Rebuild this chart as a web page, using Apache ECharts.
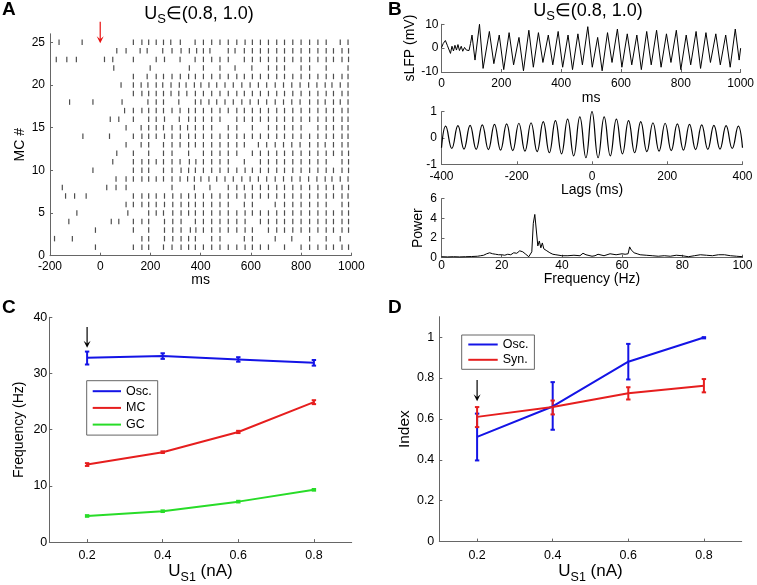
<!DOCTYPE html>
<html><head><meta charset="utf-8">
<script src="https://cdn.jsdelivr.net/npm/echarts@6/dist/echarts.min.js"></script>
<style>html,body{margin:0;padding:0;background:#fff}#c{width:757px;height:585px}</style>
</head><body><div id="c"></div>
<script>
// ---------- Panel A: spike times (ms) of each mitral cell, MC #1 .. #25 ----------
const mcSpikeTimes = [
  [-19,132,166,193,252,286,322,352,379,411,444,477,510,544,577,606,638,670,734,800,834,867,900,929,963,989],
  [-182,-111,166,193,256,289,322,352,379,444,477,574,606,697,763,834,900,956],
  [-19,132,193,256,289,322,359,381,411,444,477,510,544,577,606,670,703,734,767,800,834,867,900,929,963,989],
  [-125,44,74,132,166,193,256,289,322,379,411,444,477,510,544,577,638,670,703,734,767,800,834,867,900,929,963,989],
  [-93,110,193,223,252,289,322,352,379,411,444,477,510,544,577,606,638,670,703,734,767,800,834,867,900,929,963,989],
  [103,132,166,193,223,256,289,322,352,379,411,444,477,510,574,606,697,734,767,800,834,867,900,963,989],
  [-138,-102,-56,132,166,193,223,256,289,322,352,379,411,444,477,510,544,577,606,638,670,703,734,767,800,834,867,900,929,963,987],
  [-151,26,63,103,286,375,437,510,544,574,606,638,670,703,734,767,800,834,867,900,929,963,989],
  [63,103,132,166,193,223,252,286,318,348,375,401,433,464,497,530,564,597,630,663,697,730,763,796,830,863,896,923,956,987],
  [-29,132,166,193,252,286,322,352,379,411,444,477,510,544,577,606,638,670,703,734,767,800,834,867,900,929,963,989],
  [50,132,166,193,223,252,286,318,355,381,411,444,477,510,574,638,670,703,734,767,800,834,867,900,963,989],
  [66,132,193,252,286,352,411,444,477,510,544,606,638,670,703,734,767,800,834,867,900,929,963,989],
  [103,163,193,252,286,318,352,379,411,444,477,510,544,574,630,663,697,730,763,796,834,867,896,929,963,987],
  [-69,37,132,166,193,223,256,286,319,352,379,411,444,477,510,544,574,606,638,670,703,734,767,800,834,867,900,929,963,987],
  [103,163,193,223,252,286,319,348,379,411,444,510,544,606,670,703,734,767,800,867,900,929,963,987],
  [40,74,132,193,223,256,315,352,379,411,444,477,544,574,606,638,670,703,734,767,800,834,867,900,929,963,987],
  [97,132,166,193,223,252,286,318,352,379,411,444,477,510,544,574,606,638,670,703,734,767,800,834,867,900,929,963,987],
  [-122,-29,87,190,223,252,313,379,401,433,464,497,530,564,597,630,663,697,730,763,796,834,867,896,929,956,987],
  [132,166,193,223,252,282,313,345,379,411,444,477,510,544,574,606,638,670,703,734,767,800,834,867,900,929,963,987],
  [83,132,163,190,223,249,282,315,342,375,401,433,464,497,530,564,597,630,663,697,730,763,796,830,863,896,923,956,987],
  [132,187,223,252,286,319,352,379,411,444,477,510,544,574,606,638,670,703,734,767,800,834,867,900,929,963,987],
  [54,199,355,411,477,537,604,670,703,734,800,834,900,987],
  [-175,-133,-95,17,50,132,223,256,318,378,411,444,477,510,574,606,638,670,703,734,767,800,834,867,900,929,963,989],
  [66,103,159,187,249,286,322,355,384,411,437,510,537,574,606,638,670,703,734,767,800,834,867,900,929,963,989],
  [-164,-72,132,166,193,223,252,281,319,378,411,444,477,510,544,577,606,638,670,703,734,767,800,834,867,900,956,987]
];
const rasterYTicks = [0,5,10,15,20,25];

// ---------- Panel B: sLFP trace (ms, mV) ----------
const lfpTimes = [0,6,13,20,30,35,40,45,50,55,60,66,71,77,83,88,92,97,102,112,127,139,
  160,175,193,208,226,241,259,274,292,307,324,339,357,372,390,405,423,438,456,471,489,504,522,537,555,570,
  588,603,621,636,653,668,686,701,719,734,752,767,785,800,818,833,851,866,884,899,917,932,950,965,982,995,1000];
const lfpValues = [0.2,2,3.2,1,-2.2,0.8,-1.2,1.2,-0.8,1.5,-1,0.8,-1.3,0.3,-0.8,-0.4,-1,2,5.5,-5,10,-8.5,
  7,-6.5,5.5,-9,6.5,-7,4.5,-9.5,7.5,-8,6.5,-6,5.5,-7,7,-8,5.5,-9,6,-7,9,-8,4.5,-9.5,6.5,-6,
  8,-8,6,-7,5.5,-9,7,-7,7.5,-8,6,-6,7.5,-9,5.5,-7,7,-8.5,6.5,-6,6,-7,5.5,-8,8,-5,0];

// autocorrelation (lag ms, value)
const acLags = [-400,-388.8,-372.6,-356.4,-340.2,-324,-307.8,-291.6,-275.4,-259.2,-243,-226.8,-210.6,-194.4,-178.2,-162,-145.8,-129.6,-113.4,-97.2,-81,-64.8,-48.6,-32.4,-16.2,0,
  16.2,32.4,48.6,64.8,81,97.2,113.4,129.6,145.8,162,178.2,194.4,210.6,226.8,243,259.2,275.4,291.6,307.8,324,340.2,356.4,372.6,388.8,400];
const acValues = [-0.37,0.45,-0.4,0.47,-0.42,0.48,-0.43,0.5,-0.44,0.52,-0.46,0.54,-0.48,0.56,-0.5,0.58,-0.52,0.62,-0.56,0.66,-0.6,0.72,-0.68,0.8,-0.75,1.0,
  -0.75,0.8,-0.68,0.72,-0.6,0.66,-0.56,0.62,-0.52,0.58,-0.5,0.56,-0.48,0.54,-0.46,0.52,-0.44,0.5,-0.43,0.48,-0.42,0.47,-0.4,0.45,-0.37];

// power spectrum (Hz, power)
const psFreq = [0,2,4,6,8,10,12,13,14,15,16,17,18,19,20,21,22,23,24,25,26,27,28,29,29.5,30,30.5,31,31.5,32,32.5,33,33.5,34,34.5,35,
  36,37,38,40,42,44,46,47,48,50,51,52,54,56,58,60,61,61.5,62,62.5,63,64,65,66,68,70,72,74,76,78,80,82,84,86,88,90,92,94,96,98,100];
const psPower = [0.1,0.08,0.1,0.08,0.1,0.12,0.15,0.2,0.25,0.4,0.5,0.4,0.35,0.3,0.3,0.25,0.35,0.3,0.5,0.45,0.7,0.6,0.35,0.1,0.05,0.6,3.5,4.4,4.2,1.2,1.7,1.0,1.5,0.9,1.1,0.7,
  0.5,0.35,0.3,0.2,0.2,0.25,0.2,0.45,0.3,0.15,0.2,0.35,0.2,0.4,0.3,0.4,0.35,0.15,0.4,1.1,0.8,0.5,0.4,0.3,0.25,0.2,0.15,0.2,0.15,0.25,0.2,0.1,0.2,0.3,0.25,0.2,0.3,0.3,0.2,0.15,0.1];

// ---------- Panels C & D ----------
const us1 = [0.2, 0.4, 0.6, 0.8];
const us1Ticks = [0.2, 0.4, 0.6, 0.8];
const oscFreq = [32.8, 33.1, 32.5, 31.9];
const oscFreqLo = [31.6, 32.6, 32.1, 31.4];
const oscFreqHi = [33.9, 33.6, 32.9, 32.4];
const mcFreq = [13.8, 16.0, 19.6, 24.9];
const mcFreqLo = [13.55, 15.85, 19.4, 24.55];
const mcFreqHi = [14.05, 16.15, 19.8, 25.25];
const gcFreq = [4.65, 5.5, 7.2, 9.3];
const gcFreqLo = [4.5, 5.35, 7.05, 9.15];
const gcFreqHi = [4.8, 5.65, 7.35, 9.45];
const oscIndex = [0.512, 0.661, 0.88, 0.998];
const oscIndexLo = [0.397, 0.547, 0.793, 0.994];
const oscIndexHi = [0.626, 0.78, 0.967, 1.0];
const synIndex = [0.61, 0.658, 0.726, 0.762];
const synIndexLo = [0.56, 0.622, 0.695, 0.73];
const synIndexHi = [0.658, 0.69, 0.755, 0.795];
const indexTicks = [0, 0.2, 0.4, 0.6, 0.8, 1];

const FONT = '"Liberation Sans", Arial, Helvetica, sans-serif';
const AXC = '#666';
const BLUE = '#1414e6', RED = '#e61e1e', GREEN = '#28dc28';

function mkAxis(g, min, max, o) {
  const ax = {
    type: 'value', gridIndex: g, min: min, max: max,
    axisLine: {show: true, onZero: false, lineStyle: {color: AXC, width: 1}},
    axisTick: {show: true, inside: true, length: 3, lineStyle: {color: AXC}},
    axisLabel: {show: true, color: '#000', fontSize: o.fs || 12, fontFamily: FONT, margin: o.margin,
      formatter: o.fmt || (v => String(v))},
    splitLine: {show: false},
    name: o.name, nameLocation: 'middle', nameGap: o.gap,
    nameTextStyle: Object.assign({color: '#000', fontSize: o.nfs || 14, fontFamily: FONT}, o.nts || {})
  };
  if (o.interval != null) ax.interval = o.interval;
  if (o.ticks) { ax.axisTick.customValues = o.ticks; ax.axisLabel.customValues = o.ticks; }
  return ax;
}

const us1Name = {
  rich: {
    u: {fontSize: 17, lineHeight: 26, fontFamily: FONT, color: '#000'},
    s: {fontSize: 12.5, lineHeight: 10, verticalAlign: 'bottom', fontFamily: FONT, color: '#000'}
  }
};

function errSeries(name, x, lo, hi, xi, color) {
  return {
    type: 'custom', name: name, xAxisIndex: xi, yAxisIndex: xi, z: 3,
    data: x.map((v, i) => [v, lo[i], hi[i]]),
    encode: {x: 0, y: [1, 2]},
    renderItem: function (params, api) {
      const a = api.coord([api.value(0), api.value(1)]);
      const b = api.coord([api.value(0), api.value(2)]);
      const w = 2.2, st = {stroke: color, lineWidth: 2};
      return {type: 'group', children: [
        {type: 'line', shape: {x1: a[0], y1: a[1], x2: b[0], y2: b[1]}, style: st},
        {type: 'line', shape: {x1: a[0] - w, y1: a[1], x2: a[0] + w, y2: a[1]}, style: st},
        {type: 'line', shape: {x1: b[0] - w, y1: b[1], x2: b[0] + w, y2: b[1]}, style: st}
      ]};
    }
  };
}

const rasterPts = [];
mcSpikeTimes.forEach((row, i) => row.forEach(t => rasterPts.push([t, i + 1])));

const titleRich = {
  u: {fontSize: 18, lineHeight: 22, fontFamily: FONT, color: '#000'},
  s: {fontSize: 13, lineHeight: 11, verticalAlign: 'bottom', fontFamily: FONT, color: '#000'}
};

const legendCommon = {
  orient: 'vertical', itemHeight: 14, borderColor: '#666', borderWidth: 1, backgroundColor: '#fff',
  selectedMode: false, itemStyle: {opacity: 0, borderWidth: 0},
  textStyle: {fontSize: 12.5, fontFamily: FONT, color: '#000'}
};

const option = {
  animation: false,
  backgroundColor: '#fff',
  grid: [
    {left: 50, top: 33.8, width: 301.3, height: 221.9},
    {left: 441.5, top: 24.3, width: 301, height: 47.7},
    {left: 441.5, top: 111.7, width: 301, height: 52.6},
    {left: 441.5, top: 198.7, width: 301, height: 59},
    {left: 49.3, top: 317.3, width: 302.4, height: 229.4},
    {left: 439.3, top: 316.7, width: 302.4, height: 230.6}
  ],
  xAxis: [
    mkAxis(0, -200, 1000, {interval: 200, margin: 5, name: 'ms', gap: 16.5}),
    mkAxis(1, 0, 1000, {interval: 200, margin: 6, name: 'ms', gap: 16}),
    mkAxis(2, -400, 400, {interval: 200, margin: 6, name: 'Lags (ms)', gap: 19}),
    mkAxis(3, 0, 100, {interval: 20, margin: 2, name: 'Frequency (Hz)', gap: 14}),
    mkAxis(4, 0.1, 0.9, {ticks: us1Ticks, fmt: v => v.toFixed(1), fs: 12.5, margin: 6.5,
      name: '{u|U}{s|S1}{u| (nA)}', gap: 10.5, nts: us1Name}),
    mkAxis(5, 0.1, 0.9, {ticks: us1Ticks, fmt: v => v.toFixed(1), fs: 12.5, margin: 7,
      name: '{u|U}{s|S1}{u| (nA)}', gap: 11, nts: us1Name})
  ],
  yAxis: [
    mkAxis(0, 0, 26, {ticks: rasterYTicks, margin: 5, name: 'MC #', gap: 23}),
    mkAxis(1, -10, 10, {interval: 10, margin: 3, name: 'sLFP (mV)', gap: 22}),
    mkAxis(2, -1, 1, {interval: 1, margin: 4.5, gap: 20}),
    mkAxis(3, 0, 6, {interval: 2, margin: 4.5, name: 'Power', gap: 16}),
    mkAxis(4, 0, 40, {interval: 10, fs: 12.5, margin: 2, name: 'Frequency (Hz)', gap: 23}),
    mkAxis(5, 0, 1.1, {ticks: indexTicks, fs: 12.5, margin: 5, name: 'Index', gap: 24.5, nfs: 15.5})
  ],
  legend: [
    Object.assign({}, legendCommon, {left: 86.7, top: 380.7, data: ['Osc.', 'MC', 'GC'],
      itemWidth: 28.3, itemGap: 3.7, padding: [4, 6, 4, 5]}),
    Object.assign({}, legendCommon, {left: 461.7, top: 335, data: ['Osc.', 'Syn.'],
      itemWidth: 29.4, itemGap: 2.3, padding: [3, 6, 3, 5.6]})
  ],
  series: [
    {type: 'scatter', xAxisIndex: 0, yAxisIndex: 0, symbol: 'rect', symbolSize: [1.2, 5.5],
      itemStyle: {color: '#222'}, data: rasterPts, silent: true},
    {type: 'line', xAxisIndex: 1, yAxisIndex: 1, symbol: 'none', lineStyle: {color: '#000', width: 1},
      data: lfpTimes.map((t, i) => [t, lfpValues[i]])},
    {type: 'line', xAxisIndex: 2, yAxisIndex: 2, symbol: 'none', smooth: 0.45, lineStyle: {color: '#000', width: 1.2},
      data: acLags.map((t, i) => [t, acValues[i]])},
    {type: 'line', xAxisIndex: 3, yAxisIndex: 3, symbol: 'none', lineStyle: {color: '#000', width: 1},
      data: psFreq.map((f, i) => [f, psPower[i]])},
    {type: 'line', name: 'Osc.', xAxisIndex: 4, yAxisIndex: 4, symbol: 'none', color: BLUE,
      lineStyle: {color: BLUE, width: 2}, data: us1.map((x, i) => [x, oscFreq[i]])},
    {type: 'line', name: 'MC', xAxisIndex: 4, yAxisIndex: 4, symbol: 'none', color: RED,
      lineStyle: {color: RED, width: 2}, data: us1.map((x, i) => [x, mcFreq[i]])},
    {type: 'line', name: 'GC', xAxisIndex: 4, yAxisIndex: 4, symbol: 'none', color: GREEN,
      lineStyle: {color: GREEN, width: 2}, data: us1.map((x, i) => [x, gcFreq[i]])},
    errSeries('oscErrC', us1, oscFreqLo, oscFreqHi, 4, BLUE),
    errSeries('mcErrC', us1, mcFreqLo, mcFreqHi, 4, RED),
    errSeries('gcErrC', us1, gcFreqLo, gcFreqHi, 4, GREEN),
    {type: 'line', name: 'Osc.', xAxisIndex: 5, yAxisIndex: 5, symbol: 'none', color: BLUE,
      lineStyle: {color: BLUE, width: 2}, data: us1.map((x, i) => [x, oscIndex[i]])},
    {type: 'line', name: 'Syn.', xAxisIndex: 5, yAxisIndex: 5, symbol: 'none', color: RED,
      lineStyle: {color: RED, width: 2}, data: us1.map((x, i) => [x, synIndex[i]])},
    errSeries('oscErrD', us1, oscIndexLo, oscIndexHi, 5, BLUE),
    errSeries('synErrD', us1, synIndexLo, synIndexHi, 5, RED)
  ],
  graphic: [
    {type: 'text', x: 2, y: 10, style: {text: 'A', font: 'bold 19px ' + FONT, fill: '#000', verticalAlign: 'middle'}},
    {type: 'text', x: 388, y: 9.5, style: {text: 'B', font: 'bold 19px ' + FONT, fill: '#000', verticalAlign: 'middle'}},
    {type: 'text', x: 2, y: 308, style: {text: 'C', font: 'bold 19px ' + FONT, fill: '#000', verticalAlign: 'middle'}},
    {type: 'text', x: 388, y: 308, style: {text: 'D', font: 'bold 19px ' + FONT, fill: '#000', verticalAlign: 'middle'}},
    {type: 'text', x: 199, y: 14.5, style: {text: '{u|U}{s|S}{u|\u2208(0.8, 1.0)}', rich: titleRich, align: 'center', verticalAlign: 'middle'}},
    {type: 'text', x: 588, y: 11.5, style: {text: '{u|U}{s|S}{u|\u2208(0.8, 1.0)}', rich: titleRich, align: 'center', verticalAlign: 'middle'}}
  ]
};

const chart = echarts.init(document.getElementById('c'), null, {renderer: 'canvas'});
chart.setOption(option);

// annotation arrows positioned through the axes
const arrowSpecs = [
  {grid: 0, x: 0, from: 27.4, to: 24.9, color: '#e81010'},
  {grid: 4, x: 0.2, from: 38.26, to: 34.6, color: '#000'},
  {grid: 5, x: 0.2, from: 0.79, to: 0.687, color: '#000'}
];
const arrowGraphics = [];
arrowSpecs.forEach(a => {
  const p1 = chart.convertToPixel({gridIndex: a.grid}, [a.x, a.from]);
  const p2 = chart.convertToPixel({gridIndex: a.grid}, [a.x, a.to]);
  const hw = 3.5, hh = 7;
  arrowGraphics.push({type: 'line', shape: {x1: p1[0], y1: p1[1], x2: p2[0], y2: p2[1] - hh * 0.5},
    style: {stroke: a.color, lineWidth: 1.2}, z: 10});
  arrowGraphics.push({type: 'polygon', shape: {points: [[p2[0] - hw, p2[1] - hh], [p2[0], p2[1]], [p2[0] + hw, p2[1] - hh], [p2[0], p2[1] - hh * 0.55]]},
    style: {fill: a.color}, z: 10});
});
chart.setOption({graphic: option.graphic.concat(arrowGraphics)});
</script></body></html>
